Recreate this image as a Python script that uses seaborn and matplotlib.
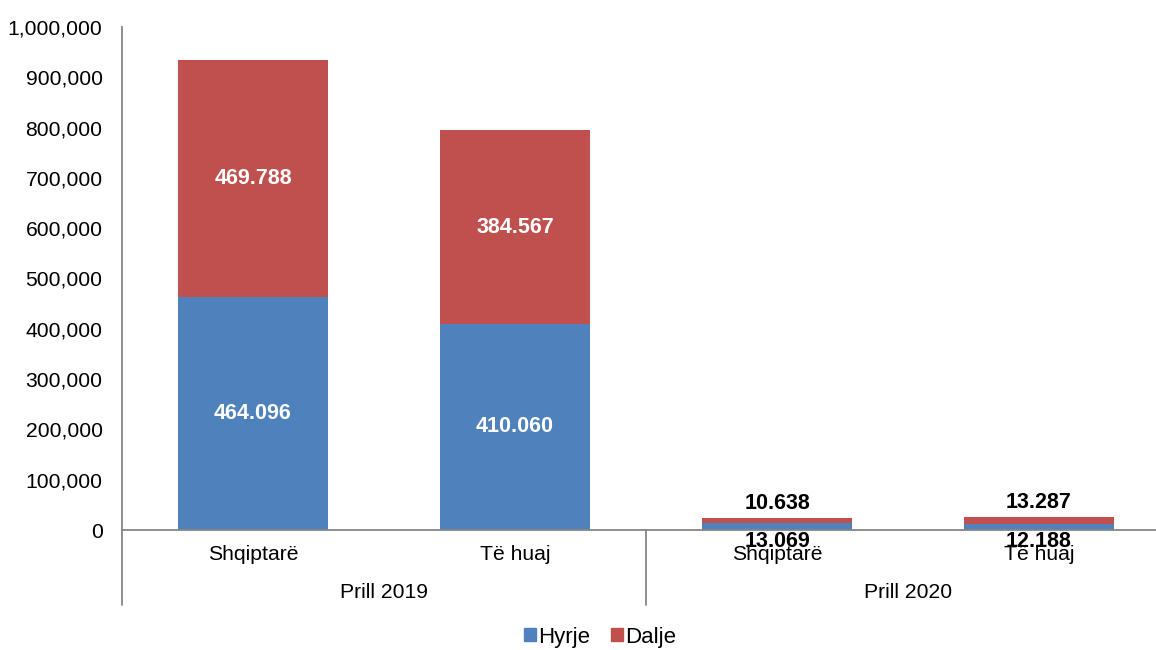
import pandas as pd
import matplotlib
matplotlib.use("Agg")
import matplotlib.pyplot as plt
import seaborn as sns

# data
categories = ["Shqiptarë", "Të huaj", "Shqiptarë", "Të huaj"]
groups = ["Prill 2019", "Prill 2020"]
hyrje = [464096, 410060, 13069, 12188]
dalje = [469788, 384567, 10638, 13287]
hyrje_lbl = ["464.096", "410.060", "13.069", "12.188"]
dalje_lbl = ["469.788", "384.567", "10.638", "13.287"]

sns.set_style("white")
plt.rcParams['font.family'] = ['Liberation Sans', 'DejaVu Sans']
plt.rcParams['text.color'] = 'black'
plt.rcParams['xtick.color'] = 'black'
plt.rcParams['ytick.color'] = 'black'

df = pd.DataFrame({"pos": list(range(len(categories))), "Hyrje": hyrje, "Dalje": dalje})
df["total"] = df["Hyrje"] + df["Dalje"]

blue = "#4F81BD"
red = "#C0504D"
gray = "#868686"
fs = 15.2

fig = plt.figure(figsize=(11.56, 6.5), dpi=100)
ax = fig.add_axes([122/1156, 120/650, 1 - 122/1156, (530 - 27)/650])

sns.barplot(data=df, x="pos", y="total", color=red, width=0.573, ax=ax,
            native_scale=True, saturation=1, errorbar=None, linewidth=0)
sns.barplot(data=df, x="pos", y="Hyrje", color=blue, width=0.573, ax=ax,
            native_scale=True, saturation=1, errorbar=None, linewidth=0)

ax.set_xlim(-0.5, (1156 - 122)/262 - 0.5)
ax.set_ylim(0, 1000000)
ax.set_yticks(range(0, 1000001, 100000))
ax.set_yticklabels([f"{v:,}" for v in range(0, 1000001, 100000)], fontsize=fs)
ax.set_xticks(df["pos"])
ax.set_xticklabels(categories, fontsize=fs)
ax.tick_params(axis="x", length=0, pad=11)
ax.tick_params(axis="y", length=0, pad=14)
ax.set_xlabel("")
ax.set_ylabel("")

for s in ["top", "right"]:
    ax.spines[s].set_visible(False)
for s in ["left", "bottom"]:
    ax.spines[s].set_color(gray)
    ax.spines[s].set_linewidth(1.3)

# group separators and group labels below the axis
trans = ax.get_xaxis_transform()
for xs in [-0.5, 1.5, 3.5]:
    ax.plot([xs, xs], [0, -75/503], transform=trans, color=gray, lw=1.3, clip_on=False)
for i, g in enumerate(groups):
    ax.text(2*i + 0.5, -63/503, g, transform=trans, ha="center", va="center", fontsize=fs)

# value labels
for i in range(len(categories)):
    h, d = hyrje[i], dalje[i]
    if h > 100000:
        ax.text(i, h/2, hyrje_lbl[i], ha="center", va="center", color="white",
                fontsize=15.5, fontweight="bold")
        ax.text(i, h + d/2, dalje_lbl[i], ha="center", va="center", color="white",
                fontsize=15.5, fontweight="bold")
    else:
        ax.text(i, h + d + 29000, dalje_lbl[i], ha="center", va="center", color="black",
                fontsize=15.5, fontweight="bold")
        ax.text(i, -22000, hyrje_lbl[i], ha="center", va="center", color="black",
                fontsize=15.5, fontweight="bold")

handles = [plt.Rectangle((0, 0), 1, 1, color=blue), plt.Rectangle((0, 0), 1, 1, color=red)]
fig.legend(handles, ["Hyrje", "Dalje"], loc="center", bbox_to_anchor=(600/1156, 1 - 637/650),
           ncol=2, frameon=False, fontsize=16, handlelength=0.55, handleheight=0.55,
           handletextpad=0.1, columnspacing=0.9)

fig.savefig("out.png", dpi=100)
